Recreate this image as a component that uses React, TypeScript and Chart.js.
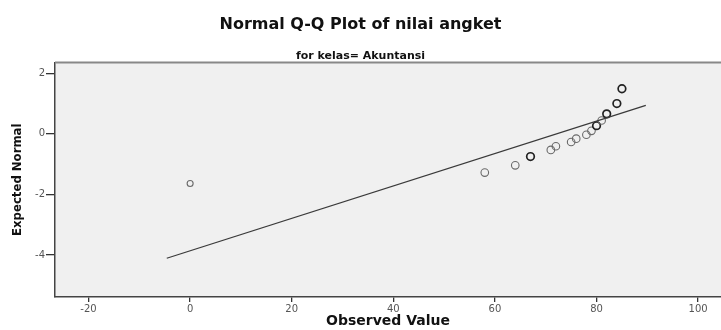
import React, { useEffect, useRef } from "react";
import { Chart, registerables } from "chart.js";

Chart.register(...registerables);

// Observed values (x) and expected normal quantiles (y)
const observed = [0, 58, 64, 67, 71, 72, 75, 76, 78, 79, 80, 81, 82, 84, 85];
const expectedNormal = [-1.64, -1.28, -1.04, -0.75, -0.53, -0.41, -0.27, -0.16, -0.03, 0.10, 0.27, 0.44, 0.66, 1.0, 1.49];
// number of cases sharing each observed value
const ties = [1, 1, 1, 2, 1, 1, 1, 1, 1, 1, 2, 1, 2, 2, 2];

// Reference line endpoints
const lineX = [-4.6, 89.7];
const lineY = [-4.11, 0.94];

const xTicks = [-20, 0, 20, 40, 60, 80, 100];
const yTicks = [-4, -2, 0, 2];

const titleText = "Normal Q-Q Plot of nilai angket";
const subtitleText = "for kelas= Akuntansi";
const xTitle = "Observed Value";
const yTitle = "Expected Normal";

const plotBg = {
  id: "plotBg",
  beforeDraw(chart: any) {
    const { ctx, chartArea: a } = chart;
    ctx.save();
    ctx.fillStyle = "#f0f0f0";
    ctx.fillRect(a.left, a.top, a.right - a.left, a.bottom - a.top);
    ctx.restore();
  },
  afterDraw(chart: any) {
    const { ctx, chartArea: a } = chart;
    ctx.save();
    ctx.strokeStyle = "#888888";
    ctx.lineWidth = 2;
    ctx.beginPath();
    ctx.moveTo(a.left, a.top);
    ctx.lineTo(a.right, a.top);
    ctx.stroke();
    ctx.restore();
  },
};

export default function App() {
  const ref = useRef<HTMLCanvasElement | null>(null);

  useEffect(() => {
    if (!ref.current) return;
    Chart.defaults.font.family = "'DejaVu Sans', sans-serif";
    const points = observed.map((x, i) => ({ x, y: expectedNormal[i] }));
    const linePts = lineX.map((x, i) => ({ x, y: lineY[i] }));
    const chart = new Chart(ref.current, {
      type: "scatter",
      data: {
        datasets: [
          {
            type: "line",
            data: linePts,
            borderColor: "#3a3a3a",
            borderWidth: 1.3,
            pointRadius: 0,
            fill: false,
          } as any,
          {
            data: points,
            pointStyle: "circle",
            pointRadius: observed.map((x) => (x < 20 ? 3 : 3.8)),
            pointBorderWidth: ties.map((t) => (t > 1 ? 1.7 : 1.1)),
            pointBorderColor: ties.map((t) => (t > 1 ? "#222222" : "#6a6a6a")),
            pointBackgroundColor: "rgba(0,0,0,0)",
          } as any,
        ],
      },
      options: {
        animation: false,
        responsive: false,
        devicePixelRatio: 1,
        layout: { padding: 0, autoPadding: false },
        plugins: {
          legend: { display: false },
          tooltip: { enabled: false },
          title: {
            display: true,
            text: titleText,
            color: "#111111",
            font: { family: "'DejaVu Sans'", size: 16, weight: "bold" },
            padding: { top: 15, bottom: 15 },
          },
          subtitle: {
            display: true,
            text: subtitleText,
            color: "#111111",
            font: { family: "'DejaVu Sans'", size: 11, weight: "bold" },
            padding: { top: 0, bottom: 0 },
          },
        },
        scales: {
          x: {
            type: "linear",
            min: -26.6,
            max: 104.5,
            afterFit: (s: any) => {
              s.height = 33;
              s.paddingLeft = 0;
              s.paddingRight = 0;
            },
            afterBuildTicks: (s: any) => {
              s.ticks = xTicks.map((v) => ({ value: v }));
            },
            ticks: {
              color: "#555555",
              font: { size: 10 },
              padding: 1,
              maxRotation: 0,
              includeBounds: false,
            },
            grid: {
              display: true,
              drawOnChartArea: false,
              drawTicks: true,
              tickLength: 5,
              color: "#333333",
              lineWidth: 1.3,
            },
            border: { display: true, color: "#444444", width: 1.5 },
            title: {
              display: true,
              text: xTitle,
              color: "#111111",
              font: { family: "'DejaVu Sans'", size: 14, weight: "bold" },
              padding: { top: 0, bottom: 0 },
            },
          },
          y: {
            type: "linear",
            min: -5.39,
            max: 2.36,
            afterFit: (s: any) => {
              s.width = 55;
              s.paddingTop = 0;
              s.paddingBottom = 0;
            },
            afterBuildTicks: (s: any) => {
              s.ticks = yTicks.map((v) => ({ value: v }));
            },
            ticks: {
              color: "#555555",
              font: { size: 10 },
              padding: 1,
              includeBounds: false,
            },
            grid: {
              display: true,
              drawOnChartArea: false,
              drawTicks: true,
              tickLength: 9,
              color: "#333333",
              lineWidth: 1.3,
            },
            border: { display: true, color: "#444444", width: 1.5 },
            title: {
              display: true,
              text: yTitle,
              color: "#111111",
              font: {
                family: "'Liberation Sans Narrow', 'DejaVu Sans Condensed', 'Liberation Sans', sans-serif",
                size: 13,
                weight: "bold",
              },
              padding: { top: 10, bottom: 0 },
            },
          },
        },
      },
      plugins: [plotBg],
    });
    return () => chart.destroy();
  }, []);

  return (
    <div style={{ position: "fixed", left: 0, top: 0, width: 721, height: 330, background: "#ffffff" }}>
      <canvas ref={ref} width={721} height={330} />
    </div>
  );
}
